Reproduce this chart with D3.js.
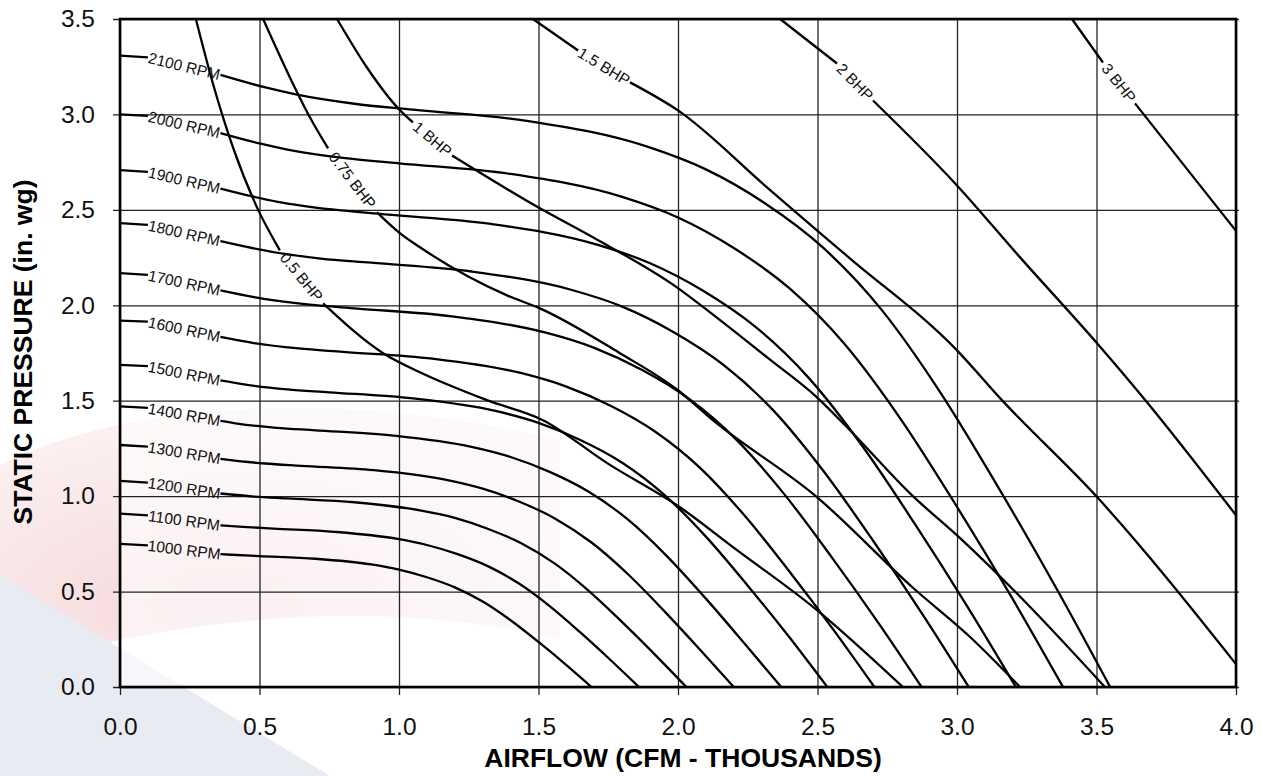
<!DOCTYPE html>
<html><head><meta charset="utf-8">
<script src="https://cdn.jsdelivr.net/npm/d3@7/dist/d3.min.js"></script>
<style>
html,body{margin:0;padding:0;background:#fff;}
svg{display:block;font-family:"Liberation Sans",Arial,Helvetica,sans-serif;}
</style></head>
<body><svg id="chart" width="1263" height="776"></svg>
<script>
// ---------- data ----------
const xTicks = [0, 0.5, 1, 1.5, 2, 2.5, 3, 3.5, 4];
const xTickLabels = ["0.0","0.5","1.0","1.5","2.0","2.5","3.0","3.5","4.0"];
const yTicks = [0, 0.5, 1, 1.5, 2, 2.5, 3, 3.5];
const yTickLabels = ["0.0","0.5","1.0","1.5","2.0","2.5","3.0","3.5"];
const xTitle = "AIRFLOW (CFM - THOUSANDS)";
const yTitle = "STATIC PRESSURE (in. wg)";

const rpmNames = ["1000 RPM","1100 RPM","1200 RPM","1300 RPM","1400 RPM","1500 RPM",
                  "1600 RPM","1700 RPM","1800 RPM","1900 RPM","2000 RPM","2100 RPM"];
const rpm1000 = [[0,0.75],[0.1,0.742],[0.36,0.696],[0.4,0.693],[0.5,0.686],[0.7,0.672],[0.9,0.642],[1.0,0.615],[1.1,0.575],[1.2,0.522],[1.3,0.448],[1.4,0.35],[1.5,0.236],[1.6,0.115],[1.69,0]];
const rpm1100 = [[0,0.908],[0.1,0.899],[0.36,0.847],[0.44,0.839],[0.55,0.830],[0.77,0.813],[0.99,0.777],[1.1,0.744],[1.21,0.696],[1.32,0.632],[1.43,0.542],[1.54,0.424],[1.65,0.286],[1.76,0.139],[1.86,0]];
const rpm1200 = [[0,1.08],[0.1,1.071],[0.36,1.014],[0.48,0.998],[0.6,0.988],[0.84,0.968],[1.08,0.924],[1.2,0.886],[1.32,0.828],[1.44,0.752],[1.56,0.645],[1.68,0.504],[1.8,0.34],[1.92,0.166],[2.03,0]];
const rpm1300 = [[0,1.268],[0.1,1.259],[0.36,1.196],[0.39,1.19],[0.52,1.171],[0.65,1.159],[0.91,1.136],[1.17,1.085],[1.3,1.039],[1.43,0.972],[1.56,0.882],[1.69,0.757],[1.82,0.592],[1.95,0.399],[2.08,0.194],[2.2,0]];
const rpm1400 = [[0,1.47],[0.1,1.462],[0.36,1.394],[0.42,1.38],[0.56,1.358],[0.7,1.345],[0.98,1.317],[1.26,1.258],[1.4,1.205],[1.54,1.127],[1.68,1.023],[1.82,0.878],[1.96,0.686],[2.1,0.463],[2.24,0.225],[2.37,0]];
const rpm1500 = [[0,1.688],[0.1,1.681],[0.36,1.606],[0.45,1.584],[0.6,1.559],[0.75,1.544],[1.05,1.512],[1.35,1.445],[1.5,1.384],[1.65,1.294],[1.8,1.175],[1.95,1.008],[2.1,0.788],[2.25,0.531],[2.4,0.259],[2.535,0]];
const rpm1600 = [[0,1.92],[0.1,1.914],[0.36,1.834],[0.48,1.802],[0.64,1.774],[0.8,1.756],[1.12,1.72],[1.44,1.644],[1.6,1.574],[1.76,1.472],[1.92,1.336],[2.08,1.147],[2.24,0.896],[2.4,0.604],[2.56,0.294],[2.704,0]];
const rpm1700 = [[0,2.168],[0.1,2.159],[0.36,2.078],[0.51,2.035],[0.68,2.003],[0.85,1.983],[1.19,1.942],[1.53,1.855],[1.7,1.777],[1.87,1.662],[2.04,1.509],[2.21,1.295],[2.38,1.012],[2.55,0.682],[2.72,0.332],[2.873,0]];
const rpm1800 = [[0,2.43],[0.1,2.421],[0.36,2.336],[0.45,2.307],[0.54,2.281],[0.72,2.245],[0.9,2.223],[1.26,2.177],[1.62,2.08],[1.8,1.993],[1.98,1.863],[2.16,1.691],[2.34,1.452],[2.52,1.134],[2.7,0.765],[2.88,0.373],[3.042,0]];
const rpm1900 = [[0,2.708],[0.1,2.699],[0.36,2.611],[0.475,2.57],[0.57,2.541],[0.76,2.502],[0.95,2.476],[1.33,2.426],[1.71,2.318],[1.9,2.22],[2.09,2.076],[2.28,1.884],[2.47,1.617],[2.66,1.264],[2.85,0.852],[3.04,0.415],[3.211,0]];
const rpm2000 = [[0,3.0],[0.1,2.992],[0.36,2.902],[0.5,2.848],[0.6,2.816],[0.8,2.772],[1.0,2.744],[1.4,2.688],[1.8,2.568],[2.0,2.46],[2.2,2.3],[2.4,2.088],[2.6,1.792],[2.8,1.4],[3.0,0.944],[3.2,0.46],[3.38,0]];
const rpm2100 = [[0,3.308],[0.1,3.299],[0.36,3.207],[0.525,3.14],[0.63,3.105],[0.84,3.056],[1.05,3.025],[1.47,2.964],[1.89,2.831],[2.1,2.712],[2.31,2.536],[2.52,2.302],[2.73,1.976],[2.94,1.544],[3.15,1.041],[3.36,0.507],[3.549,0]];
const rpmLabelGap = [0.1, 0.36];

const bhpNames = ["0.5 BHP","0.75 BHP","1 BHP","1.5 BHP","2 BHP","3 BHP"];
const bhp05  = [[0.272,3.5],[0.333,3.162],[0.405,2.827],[0.491,2.513],[0.573,2.288],[0.728,2.01],[0.943,1.749],[1.075,1.649],[1.315,1.503],[1.516,1.398],[1.746,1.173],[2.007,0.942],[2.197,0.733],[2.498,0.403],[2.806,0]];
const bhp075 = [[0.513,3.5],[0.609,3.194],[0.681,2.984],[0.746,2.822],[0.921,2.487],[1.004,2.377],[1.075,2.304],[1.387,2.052],[1.505,1.984],[1.792,1.749],[2.0,1.555],[2.125,1.398],[2.498,0.995],[2.842,0.52],[3.047,0.262],[3.226,0]];
const bhp1   = [[0.778,3.5],[0.885,3.246],[1.004,3.021],[1.05,2.958],[1.19,2.785],[1.505,2.508],[1.695,2.356],[1.996,2.094],[2.115,1.963],[2.323,1.723],[2.498,1.518],[2.606,1.361],[2.842,1.0],[3.011,0.78],[3.215,0.49],[3.53,0]];
const bhp15  = [[1.48,3.5],[1.642,3.335],[1.828,3.168],[2.0,3.021],[2.319,2.618],[2.498,2.393],[2.616,2.246],[3.0,1.764],[3.161,1.503],[3.502,0.995],[4.0,0.12]];
const bhp2   = [[2.366,3.5],[2.57,3.267],[2.699,3.073],[3.0,2.628],[3.226,2.251],[3.502,1.801],[3.681,1.492],[4.0,0.9]];
const bhp3   = [[3.412,3.5],[3.523,3.272],[3.638,3.058],[4.0,2.39]];
const bhpGaps = [[0.573,0.728],[0.746,0.921],[1.05,1.19],[1.642,1.828],[2.57,2.699],[3.523,3.638]];

const rpmCurves = [rpm1000,rpm1100,rpm1200,rpm1300,rpm1400,rpm1500,rpm1600,rpm1700,rpm1800,rpm1900,rpm2000,rpm2100];
const bhpCurves = [bhp05,bhp075,bhp1,bhp15,bhp2,bhp3];

// ---------- drawing ----------
const svg = d3.select("#chart");
const L = 120, R = 1236, T = 19, B = 687;
const x = d3.scaleLinear().domain([0, 4]).range([L, R]);
const y = d3.scaleLinear().domain([0, 3.5]).range([B, T]);

// faint background decoration (logo tint behind the chart)
const defs = svg.append("defs");
const grad = defs.append("radialGradient").attr("id","pinkg")
  .attr("cx","40%").attr("cy","75%").attr("r","65%");
grad.append("stop").attr("offset","0%").attr("stop-color","#f5d7da");
grad.append("stop").attr("offset","100%").attr("stop-color","#fbeff0");
const wm = svg.append("g");
wm.append("path").attr("d","M0,465 C120,405 330,385 560,440 L560,640 C400,600 200,610 0,670 Z")
  .attr("fill","url(#pinkg)");
wm.append("path").attr("d","M0,575 L330,776 L0,776 Z").attr("fill","#e9ebf3");

// plot background (semi-transparent white over the tint)
svg.append("rect").attr("x",L).attr("y",T).attr("width",R-L).attr("height",B-T)
  .attr("fill","#fff").attr("opacity",0.62);

// grid + x axis
const gx = svg.append("g").attr("transform",`translate(0,${B})`)
  .call(d3.axisBottom(x).tickValues(xTicks).tickFormat((d,i)=>xTickLabels[i])
        .tickSize(-(B-T)).tickSizeOuter(0).tickPadding(31));
gx.select(".domain").remove();
gx.selectAll(".tick line").attr("y1",8).attr("stroke","#222").attr("stroke-width",1.3);
gx.selectAll(".tick text").attr("font-size",24.5).attr("fill","#111")
  .attr("font-family","Liberation Sans, Arial, sans-serif");

const gy = svg.append("g").attr("transform",`translate(${L},0)`)
  .call(d3.axisLeft(y).tickValues(yTicks).tickFormat((d,i)=>yTickLabels[i])
        .tickSize(-(R-L)-3).tickSizeOuter(0).tickPadding(25));
gy.select(".domain").remove();
gy.selectAll(".tick line").attr("x1",-7).attr("stroke","#222").attr("stroke-width",1.3);
gy.selectAll(".tick text").attr("font-size",24.5).attr("fill","#111")
  .attr("font-family","Liberation Sans, Arial, sans-serif");

// frame
svg.append("rect").attr("x",L).attr("y",T).attr("width",R-L).attr("height",B-T)
  .attr("fill","none").attr("stroke","#000").attr("stroke-width",2.6);

// curves
const line = d3.line().x(d=>x(d[0])).y(d=>y(d[1])).curve(d3.curveMonotoneX);
const curveG = svg.append("g");
function drawCurve(pts, gap, label){
  const a = pts.filter(d=>d[0] <= gap[0] + 1e-9);
  const b = pts.filter(d=>d[0] >= gap[1] - 1e-9);
  [a,b].forEach(seg=>{
    if (seg.length > 1) curveG.append("path").attr("d",line(seg))
      .attr("fill","none").attr("stroke","#000").attr("stroke-width",2.3)
      .attr("stroke-linejoin","round");
  });
  const p0 = a[a.length-1], p1 = b[0];
  const x0 = x(p0[0]), y0 = y(p0[1]), x1 = x(p1[0]), y1 = y(p1[1]);
  const ang = Math.atan2(y1-y0, x1-x0) * 180 / Math.PI;
  curveG.append("text")
    .attr("transform",`translate(${(x0+x1)/2},${(y0+y1)/2}) rotate(${ang})`)
    .attr("text-anchor","middle").attr("dominant-baseline","central")
    .attr("font-size",15.5).attr("fill","#111").text(label);
}
rpmCurves.forEach((c,i)=>drawCurve(c, rpmLabelGap, rpmNames[i]));
bhpCurves.forEach((c,i)=>drawCurve(c, bhpGaps[i], bhpNames[i]));

// axis titles
svg.append("text").attr("x",683).attr("y",767).attr("text-anchor","middle")
  .attr("font-size",26.5).attr("font-weight","bold").attr("fill","#000").text(xTitle);
svg.append("text").attr("transform","translate(32,352) rotate(-90)").attr("text-anchor","middle")
  .attr("font-size",26.5).attr("font-weight","bold").attr("fill","#000").text(yTitle);
</script>
</body></html>
